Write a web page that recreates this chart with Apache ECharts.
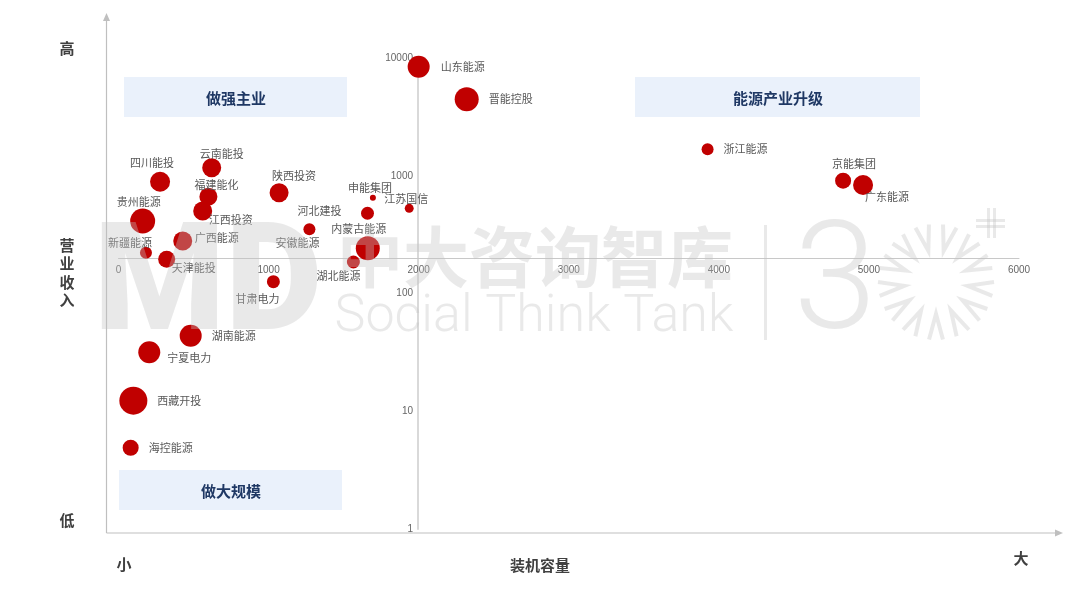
<!DOCTYPE html>
<html>
<head>
<meta charset="utf-8">
<script src="https://cdn.jsdelivr.net/npm/echarts@6/dist/echarts.min.js"></script>
<style>
html,body{margin:0;padding:0;background:#fff;}
#main{width:1080px;height:608px;}
</style>
</head>
<body>
<div id="main"></div>
<script>
// ---- data ----
const companies = ['山东能源','晋能控股','浙江能源','京能集团','广东能源','四川能投','云南能投','福建能化','江西投资','贵州能源','陕西投资','申能集团','江苏国信','河北建投','安徽能源','内蒙古能源','湖北能源','广西能源','新疆能源','天津能投','甘肃电力','湖南能源','宁夏电力','西藏开投','海控能源'];
const capacity = [2000,2320,3925,4828,4961,277,621,599,561,161,1070,1695,1937,1659,1272,1661,1565,428,183,321,1032,481,205,99,81];
const revenue = [8440,4460,1677,908,834,890,1171,664,502,413,718,651,529,480,351,242,185,279,222,195,126,43.8,31.7,12.3,4.9];
const bubbleScale = [121,144,36,64,100,100,90,81,90,156,90,9,20,42,36,144,42,90,36,72,42,121,121,196,64];
const xTicks = [0,1000,2000,3000,4000,5000,6000];
const yTicks = [1,10,100,1000,10000];
const quadrants = ['做强主业','能源产业升级','做大规模'];

// ---- label layout (presentation only) ----
const labelLayout = {
  '山东能源':{pos:'right',dist:11},
  '晋能控股':{pos:'right',dist:10},
  '浙江能源':{pos:'right',dist:10},
  '京能集团':{off:[11,-17]},
  '广东能源':{off:[24,12]},
  '四川能投':{off:[-8,-19]},
  '云南能投':{off:[10,-14]},
  '福建能化':{off:[8,-12]},
  '江西投资':{off:[28,9]},
  '贵州能源':{off:[-4,-19]},
  '陕西投资':{off:[15,-17]},
  '申能集团':{off:[-3,-10]},
  '江苏国信':{off:[-3,-10]},
  '河北建投':{off:[-48,-2]},
  '安徽能源':{off:[-12,14]},
  '内蒙古能源':{off:[-9,-19]},
  '湖北能源':{off:[-15,14]},
  '广西能源':{off:[34,-3]},
  '新疆能源':{off:[-16,-10]},
  '天津能投':{off:[27,8]},
  '甘肃电力':{off:[-16,17]},
  '湖南能源':{pos:'right',dist:10},
  '宁夏电力':{pos:'right',dist:7,off:[0,6]},
  '西藏开投':{pos:'right',dist:10},
  '海控能源':{pos:'right',dist:10}
};

const seriesData = companies.map((n,i)=>{
  const L = labelLayout[n] || {pos:'right',dist:8};
  const label = L.pos ? {position:L.pos, distance:L.dist, offset:L.off||[0,0]} : {position:'inside', offset:L.off};
  return {name:n, value:[capacity[i], revenue[i], bubbleScale[i]], label:label};
});

const chart = echarts.init(document.getElementById('main'), null, {renderer:'canvas'});

const grey = 'rgba(195,195,195,0.36)';
const wm = [];
// watermark logo
wm.push({type:'text', z:50, silent:true, style:{text:'MD', x:208, y:291, align:'center', verticalAlign:'middle', fill:grey, font:'900 150px Roboto'}});
wm.push({type:'text', z:50, silent:true, style:{text:'中大咨询智库', x:535, y:257, align:'center', verticalAlign:'middle', fill:grey, font:'bold 66px "Noto Sans CJK SC"'}});
wm.push({type:'text', z:50, silent:true, style:{text:'Social Think Tank', x:534, y:318, align:'center', verticalAlign:'middle', fill:grey, font:'300 52px Roboto'}});
wm.push({type:'rect', z:50, silent:true, shape:{x:764, y:225, width:3, height:115}, style:{fill:grey}});
wm.push({type:'text', z:50, silent:true, style:{text:'3', x:835, y:290, align:'center', verticalAlign:'middle', fill:grey, font:'300 150px Roboto'}});
(function(){
  const cx=936, cy=282, r1=32, r2=58, n=13;
  for(let k=0;k<n;k++){
    const a = -Math.PI/2 + (k+0.5)*2*Math.PI/n;
    const da = 0.12;
    const p1=[cx+r2*Math.cos(a-da), cy+r2*Math.sin(a-da)];
    const p2=[cx+r1*Math.cos(a), cy+r1*Math.sin(a)];
    const p3=[cx+r2*Math.cos(a+da), cy+r2*Math.sin(a+da)];
    wm.push({type:'polyline', z:50, silent:true, shape:{points:[p1,p2,p3]}, style:{stroke:grey, lineWidth:4, fill:null}});
  }
})();
wm.push({type:'rect', z:50, silent:true, shape:{x:976, y:219, width:29, height:3}, style:{fill:grey}});
wm.push({type:'rect', z:50, silent:true, shape:{x:976, y:225, width:29, height:3}, style:{fill:grey}});
wm.push({type:'rect', z:50, silent:true, shape:{x:987, y:208, width:3, height:30}, style:{fill:grey}});
wm.push({type:'rect', z:50, silent:true, shape:{x:993, y:208, width:3, height:30}, style:{fill:grey}});

const axisGrey = '#bfbfbf';
const titleFont = 'bold 15px "Noto Sans CJK SC"';
const deco = [
  {type:'line', shape:{x1:106.5, y1:533, x2:106.5, y2:19}, style:{stroke:axisGrey, lineWidth:1.2}},
  {type:'polygon', shape:{points:[[106.5,13],[103,21],[110,21]]}, style:{fill:axisGrey}},
  {type:'line', shape:{x1:106.5, y1:533, x2:1057, y2:533}, style:{stroke:axisGrey, lineWidth:1.2}},
  {type:'polygon', shape:{points:[[1063,533],[1055,529.5],[1055,536.5]]}, style:{fill:axisGrey}},
  {type:'rect', shape:{x:124, y:77, width:223, height:40}, style:{fill:'#eaf1fb'}},
  {type:'text', style:{text:quadrants[0], x:236, y:98, align:'center', verticalAlign:'middle', fill:'#1f3864', font:titleFont}},
  {type:'rect', shape:{x:635, y:77, width:285, height:40}, style:{fill:'#eaf1fb'}},
  {type:'text', style:{text:quadrants[1], x:778, y:98, align:'center', verticalAlign:'middle', fill:'#1f3864', font:titleFont}},
  {type:'rect', shape:{x:119, y:470, width:223, height:40}, style:{fill:'#eaf1fb'}},
  {type:'text', style:{text:quadrants[2], x:231, y:491, align:'center', verticalAlign:'middle', fill:'#1f3864', font:titleFont}},
  {type:'text', style:{text:'高', x:67, y:48, align:'center', verticalAlign:'middle', fill:'#404040', font:titleFont}},
  {type:'text', style:{text:'营\n业\n收\n入', x:67, y:273, align:'center', verticalAlign:'middle', lineHeight:18.5, fill:'#404040', font:titleFont}},
  {type:'text', style:{text:'低', x:67, y:520, align:'center', verticalAlign:'middle', fill:'#404040', font:titleFont}},
  {type:'text', style:{text:'小', x:124, y:564, align:'center', verticalAlign:'middle', fill:'#404040', font:titleFont}},
  {type:'text', style:{text:'装机容量', x:540, y:565, align:'center', verticalAlign:'middle', fill:'#404040', font:titleFont}},
  {type:'text', style:{text:'大', x:1021, y:558, align:'center', verticalAlign:'middle', fill:'#404040', font:titleFont}}
];

const option = {
  backgroundColor:'#ffffff',
  animation:false,
  grid:{left:118.5, right:61, top:58, bottom:79, containLabel:false},
  xAxis:{
    type:'value', min:xTicks[0], max:xTicks[xTicks.length-1], interval:1000,
    position:'bottom', offset:-271,
    axisLine:{show:true, onZero:false, lineStyle:{color:'#c8c8c8', width:1}},
    axisTick:{show:false},
    splitLine:{show:false},
    axisLabel:{margin:7, color:'#666', fontSize:10, fontFamily:'Liberation Sans', formatter:function(v){return String(v);}}
  },
  yAxis:{
    type:'log', logBase:10, min:yTicks[0], max:yTicks[yTicks.length-1],
    position:'left', offset:-299.5,
    axisLine:{show:true, onZero:false, lineStyle:{color:'#d9d9d9', width:2}},
    axisTick:{show:false},
    splitLine:{show:false},
    axisLabel:{margin:5, color:'#666', fontSize:10, fontFamily:'Liberation Sans', formatter:function(v){return String(Math.round(v));}}
  },
  graphic:{elements: deco.concat(wm)},
  series:[{
    type:'scatter',
    data:seriesData,
    symbolSize:function(v){ return 2*Math.sqrt(v[2]); },
    itemStyle:{color:'#c00000', opacity:1},
    label:{show:true, formatter:'{b}', color:'#595959', fontSize:11, fontFamily:'"Noto Sans CJK SC"'},
    emphasis:{disabled:true},
    z:3
  }]
};
chart.setOption(option);
</script>
</body>
</html>
